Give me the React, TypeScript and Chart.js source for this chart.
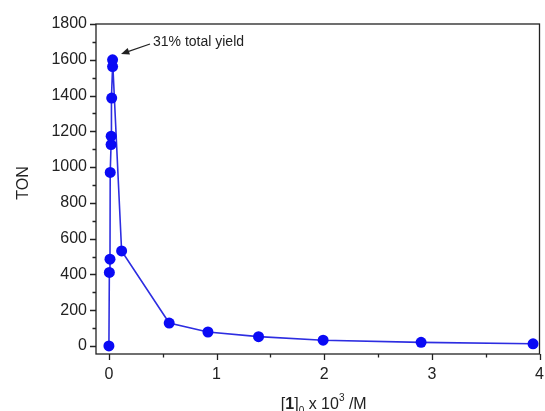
import React, { useEffect, useRef } from "react";
import { Chart, registerables } from "chart.js";

Chart.register(...registerables);

const concentration = [0, 0.004, 0.01, 0.012, 0.02, 0.021, 0.026, 0.034, 0.034, 0.118, 0.56, 0.92, 1.39, 1.99, 2.9, 3.94];
const ton = [0, 411, 485, 970, 1126, 1173, 1386, 1562, 1600, 531, 128, 78, 52, 32, 20, 12];
const xTicks = [0, 1, 2, 3, 4];
const xMinorTicks = [0.5, 1.5, 2.5, 3.5];
const yTicks = [0, 200, 400, 600, 800, 1000, 1200, 1400, 1600, 1800];
const yMinorTicks = [100, 300, 500, 700, 900, 1100, 1300, 1500, 1700];
const annotationText = "31% total yield";
const yTitle = "TON";

const FONT = "'Liberation Sans', Arial, sans-serif";

const framePlugin = {
  id: "frame",
  afterDraw(chart: any) {
    const { ctx, chartArea: a, scales } = chart;
    const xs = scales.x;
    const ys = scales.y;
    ctx.save();
    ctx.strokeStyle = "#222";
    ctx.lineWidth = 1.3;
    ctx.strokeRect(a.left, a.top, a.right - a.left, a.bottom - a.top);
    ctx.fillStyle = "#222";
    ctx.font = `16px ${FONT}`;
    ctx.beginPath();
    xTicks.forEach((v) => {
      const px = Math.round(xs.getPixelForValue(v)) + 0.5;
      ctx.moveTo(px, a.bottom);
      ctx.lineTo(px, a.bottom + 6);
    });
    xMinorTicks.forEach((v) => {
      const px = Math.round(xs.getPixelForValue(v)) + 0.5;
      ctx.moveTo(px, a.bottom);
      ctx.lineTo(px, a.bottom + 3.5);
    });
    yTicks.forEach((v) => {
      const py = Math.round(ys.getPixelForValue(v)) + 0.5;
      ctx.moveTo(a.left, py);
      ctx.lineTo(a.left - 6, py);
    });
    yMinorTicks.forEach((v) => {
      const py = Math.round(ys.getPixelForValue(v)) + 0.5;
      ctx.moveTo(a.left, py);
      ctx.lineTo(a.left - 3.5, py);
    });
    ctx.stroke();
    ctx.textAlign = "center";
    ctx.textBaseline = "top";
    xTicks.forEach((v) => {
      ctx.fillText(String(v), xs.getPixelForValue(v), a.bottom + 13);
    });
    ctx.textAlign = "right";
    ctx.textBaseline = "middle";
    yTicks.forEach((v) => {
      ctx.fillText(String(v), a.left - 9, ys.getPixelForValue(v));
    });
    ctx.save();
    ctx.translate(24, (a.top + a.bottom) / 2 - 6);
    ctx.rotate(-Math.PI / 2);
    ctx.textAlign = "center";
    ctx.textBaseline = "middle";
    ctx.fillText(yTitle, 0, 0);
    ctx.restore();
    const cx = (a.left + a.right) / 2 + 6;
    const by = 409;
    const parts: { t: string; f: string; dy: number }[] = [
      { t: "[", f: `16px ${FONT}`, dy: 0 },
      { t: "1", f: `bold 16px ${FONT}`, dy: 0 },
      { t: "]", f: `16px ${FONT}`, dy: 0 },
      { t: "0", f: `10px ${FONT}`, dy: 5 },
      { t: " x 10", f: `16px ${FONT}`, dy: 0 },
      { t: "3", f: `10px ${FONT}`, dy: -8 },
      { t: " /M", f: `16px ${FONT}`, dy: 0 },
    ];
    let total = 0;
    parts.forEach((p) => {
      ctx.font = p.f;
      total += ctx.measureText(p.t).width;
    });
    let x = cx - total / 2;
    ctx.textAlign = "left";
    ctx.textBaseline = "alphabetic";
    parts.forEach((p) => {
      ctx.font = p.f;
      ctx.fillText(p.t, x, by + p.dy);
      x += ctx.measureText(p.t).width;
    });
    ctx.font = `14px ${FONT}`;
    ctx.textAlign = "left";
    ctx.textBaseline = "middle";
    ctx.fillText(annotationText, 153, 42);
    const x1 = 150, y1 = 44, x2 = 121, y2 = 54;
    ctx.lineWidth = 1.3;
    ctx.beginPath();
    ctx.moveTo(x1, y1);
    ctx.lineTo(x2 + 4, y2 - 1.4);
    ctx.stroke();
    const ang = Math.atan2(y2 - y1, x2 - x1);
    ctx.beginPath();
    ctx.moveTo(x2, y2);
    ctx.lineTo(x2 - 9 * Math.cos(ang - 0.4), y2 - 9 * Math.sin(ang - 0.4));
    ctx.lineTo(x2 - 9 * Math.cos(ang + 0.4), y2 - 9 * Math.sin(ang + 0.4));
    ctx.closePath();
    ctx.fill();
    ctx.restore();
  },
};

export default function App() {
  const ref = useRef<HTMLCanvasElement>(null);
  useEffect(() => {
    if (!ref.current) return;
    const chart = new Chart(ref.current, {
      type: "line",
      data: {
        datasets: [
          {
            data: concentration.map((c, i) => ({ x: c, y: ton[i] })),
            borderColor: "rgb(45,45,225)",
            backgroundColor: "rgb(10,10,245)",
            pointBackgroundColor: "rgb(10,10,245)",
            pointBorderColor: "rgb(10,10,245)",
            borderWidth: 1.6,
            pointRadius: 5.5,
            pointBorderWidth: 0,
            tension: 0,
          },
        ],
      },
      options: {
        animation: false,
        responsive: false,
        maintainAspectRatio: false,
        layout: { padding: { left: 96, right: 4, top: 24, bottom: 57 } },
        plugins: { legend: { display: false }, tooltip: { enabled: false } },
        scales: {
          x: { type: "linear", min: -0.12, max: 4.0, display: false },
          y: { type: "linear", min: -45, max: 1800, display: false },
        },
      },
      plugins: [framePlugin],
    });
    return () => chart.destroy();
  }, []);
  return (
    <div style={{ position: "fixed", left: 0, top: 0, width: 545, height: 411, background: "#fff" }}>
      <canvas ref={ref} width={545} height={411} style={{ width: 545, height: 411 }} />
    </div>
  );
}
